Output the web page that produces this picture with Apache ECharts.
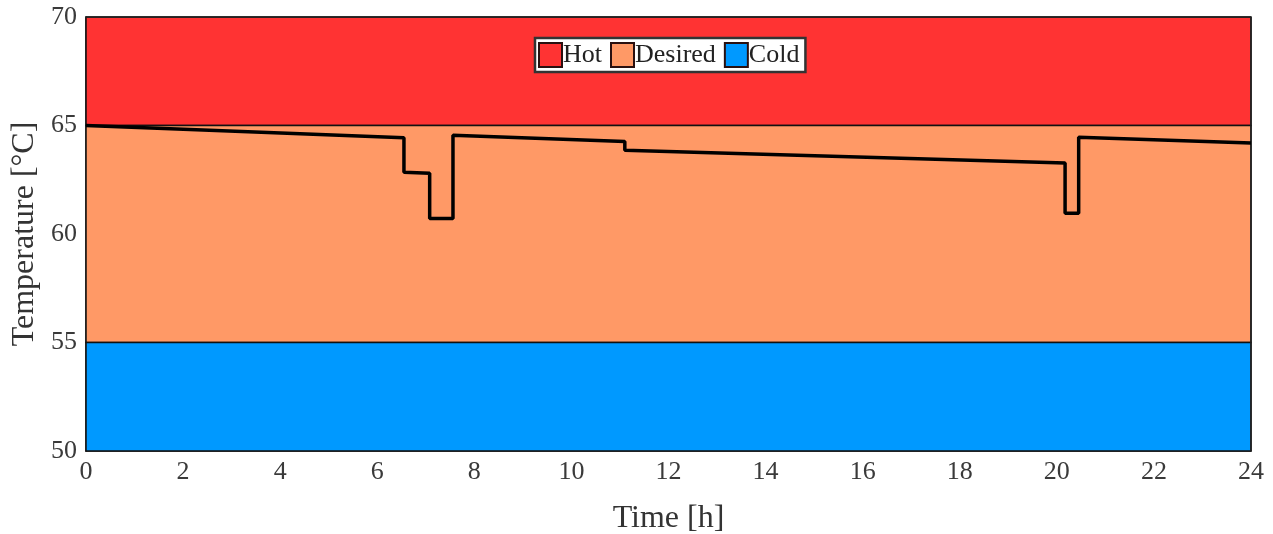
<!DOCTYPE html>
<html>
<head>
<meta charset="utf-8">
<script src="https://cdn.jsdelivr.net/npm/echarts@6/dist/echarts.min.js"></script>
<style>
  html, body { margin: 0; padding: 0; background: #fff; }
  #chart { width: 1273px; height: 534px; }
</style>
</head>
<body>
<div id="chart"></div>
<script>
// Temperature comfort bands
const bandNames = ['Hot', 'Desired', 'Cold'];
const bandLow = [65, 55, 50];
const bandHigh = [70, 65, 55];
const bandColors = ['#FF3333', '#FF9966', '#0099FF'];

// Tank temperature trace (step-wise, vertical jumps repeat the time)
const timeH = [0, 6.55, 6.55, 7.08, 7.08, 7.56, 7.56, 11.1, 11.1, 20.17, 20.17, 20.45, 20.45, 24];
const tempC = [65.0, 64.43, 62.84, 62.80, 60.72, 60.72, 64.55, 64.26, 63.86, 63.27, 60.96, 60.96, 64.46, 64.19];

const xTicks = [0, 2, 4, 6, 8, 10, 12, 14, 16, 18, 20, 22, 24];
const yTicks = [50, 55, 60, 65, 70];

const FONT = '"Liberation Serif", "DejaVu Serif", serif';
const chart = echarts.init(document.getElementById('chart'));

const bandSeries = bandNames.map((name, i) => ({
  name: name,
  type: 'line',
  data: [],
  itemStyle: { color: bandColors[i], borderColor: '#2a1010', borderWidth: 2 },
  markArea: {
    silent: true,
    itemStyle: { color: bandColors[i], borderColor: '#111', borderWidth: 1.5 },
    data: [[{ xAxis: 0, yAxis: bandLow[i] }, { xAxis: 24, yAxis: bandHigh[i] }]]
  }
}));

chart.setOption({
  animation: false,
  grid: { left: 86, right: 22, top: 17, bottom: 83, show: false,
          containLabel: false, outerBoundsMode: 'none' },
  legend: {
    data: bandNames,
    left: 535,
    top: 38,
    icon: 'rect',
    itemWidth: 23,
    itemHeight: 24,
    itemGap: 8,
    padding: [4, 6, 4, 3],
    backgroundColor: '#fff',
    borderColor: '#333',
    borderWidth: 2.5,
    textStyle: { fontFamily: FONT, fontSize: 26, color: '#222', padding: [2, 0, 0, -4] }
  },
  xAxis: {
    type: 'value',
    min: 0, max: 24, interval: 2,
    name: 'Time [h]',
    nameLocation: 'middle',
    nameGap: 52,
    nameTextStyle: { fontFamily: FONT, fontSize: 32, color: '#333' },
    axisLine: { show: true, onZero: false, lineStyle: { color: '#222', width: 1.5 } },
    axisTick: { show: false },
    splitLine: { show: false },
    axisLabel: { fontFamily: FONT, fontSize: 26, color: '#3a3a3a', margin: 8,
      formatter: v => xTicks.includes(v) ? String(v) : '' }
  },
  yAxis: {
    type: 'value',
    min: 50, max: 70, interval: 5,
    name: 'Temperature [°C]',
    nameLocation: 'middle',
    nameGap: 40,
    nameTextStyle: { fontFamily: FONT, fontSize: 32, color: '#333' },
    axisLine: { show: true, lineStyle: { color: '#222', width: 1.5 } },
    axisTick: { show: false },
    splitLine: { show: false },
    axisLabel: { fontFamily: FONT, fontSize: 26, color: '#3a3a3a', margin: 9,
      formatter: v => yTicks.includes(v) ? String(v) : '' }
  },
  series: bandSeries.concat([{
    name: 'Temperature',
    type: 'line',
    data: timeH.map((t, i) => [t, tempC[i]]),
    showSymbol: false,
    lineStyle: { color: '#000', width: 3.5 },
    z: 5
  }, {
    // closing frame on the top and right
    name: 'frame',
    type: 'line',
    data: [],
    markLine: {
      silent: true, symbol: 'none', label: { show: false },
      lineStyle: { color: '#222', width: 1.5, type: 'solid' },
      data: [[{ coord: [0, 70] }, { coord: [24, 70] }], [{ coord: [24, 50] }, { coord: [24, 70] }]]
    }
  }])
});
</script>
</body>
</html>
